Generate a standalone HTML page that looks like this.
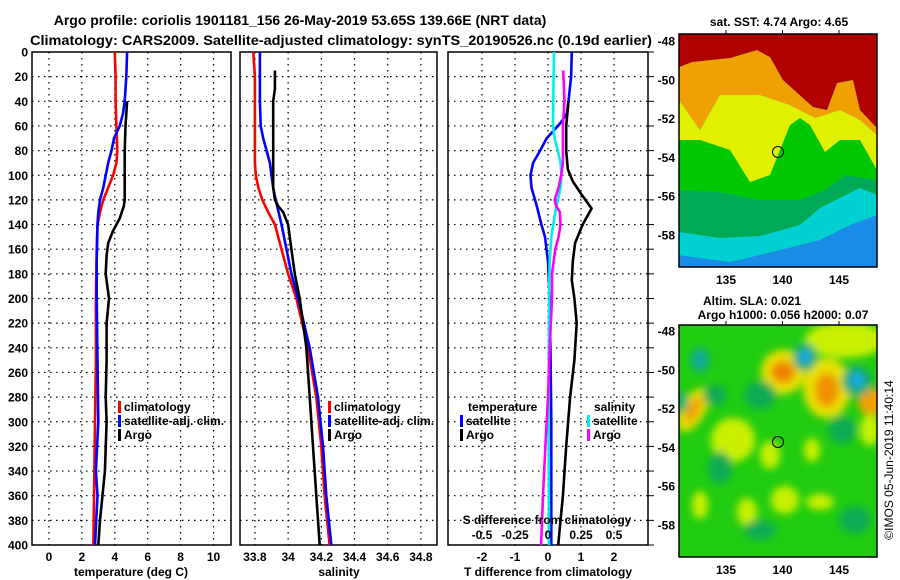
<!DOCTYPE html>
<html><head><meta charset="utf-8"><style>
html,body{margin:0;padding:0;background:#fff;}
svg{display:block;font-family:"Liberation Sans",Arial,sans-serif;font-weight:bold;}
</style></head><body>
<svg id="fig" width="900" height="580" viewBox="0 0 900 580" xmlns="http://www.w3.org/2000/svg">
<defs>
<filter id="blur4"><feGaussianBlur stdDeviation="4"/></filter>
<clipPath id="clipTop"><rect x="679" y="34" width="198" height="233"/></clipPath>
<clipPath id="clipBot"><rect x="679" y="325" width="198" height="232"/></clipPath>
</defs>
<text x="300" y="25" font-size="14" text-anchor="middle">Argo profile: coriolis 1901181_156 26-May-2019 53.65S 139.66E (NRT data)</text>
<text x="30" y="45" font-size="14" textLength="622" lengthAdjust="spacingAndGlyphs">Climatology: CARS2009. Satellite-adjusted climatology: synTS_20190526.nc (0.19d earlier)</text>
<g id="panels"></g>
<g id="maps">
 <g clip-path="url(#clipTop)">
  <rect x="679" y="34" width="198" height="233" fill="#00c8dc"/>
  <polygon fill="#1a8ce6" points="679,255 730,262 780,250 820,240 850,225 877,215 877,267 679,267"/>
  <polygon fill="#00d0d0" points="679,232 720,238 760,236 800,225 820,208 860,188 877,195 877,215 850,225 820,240 780,250 730,262 679,255"/>
  <polygon fill="#00aa55" points="679,190 720,192 760,200 800,200 825,190 845,175 877,180 877,195 860,188 820,208 800,225 760,236 720,238 679,232"/>
  <polygon fill="#00c800" points="679,140 700,140 730,150 750,182 770,175 790,125 800,118 810,125 825,152 840,140 860,140 877,170 877,180 845,175 825,190 800,200 760,200 720,192 679,190"/>
  <polygon fill="#e0f000" points="679,100 700,130 720,95 760,95 790,105 815,118 840,110 860,120 877,135 877,170 860,140 840,140 825,152 810,125 800,118 790,125 770,175 750,182 730,150 700,140 679,140"/>
  <polygon fill="#f0a000" points="679,67 692,62 730,58 757,50 770,57 783,80 813,107 827,110 837,83 853,80 860,110 877,128 877,135 860,120 840,110 815,118 790,105 760,95 720,95 700,130 679,100"/>
  <polygon fill="#b00000" points="679,34 877,34 877,128 860,110 853,80 837,83 827,110 813,107 783,80 770,57 757,50 730,58 692,62 679,67"/>
 </g>
 <rect x="679" y="34" width="198" height="233" fill="none" stroke="#000" stroke-width="1.5"/>
 <circle cx="778" cy="152" r="5.5" fill="none" stroke="#000" stroke-width="1"/>
 <g clip-path="url(#clipBot)">
  <rect x="679" y="325" width="198" height="232" fill="#22cc11"/>
  <g filter="url(#blur4)">
   <ellipse cx="845" cy="340" rx="40" ry="18" fill="#c8f000"/>
   <ellipse cx="783" cy="372" rx="22" ry="22" fill="#e8e000"/>
   <ellipse cx="783" cy="372" rx="12" ry="11" fill="#f08000"/>
   <ellipse cx="827" cy="388" rx="24" ry="30" fill="#e8e000"/>
   <ellipse cx="827" cy="390" rx="12" ry="17" fill="#f09000"/>
   <ellipse cx="872" cy="402" rx="14" ry="14" fill="#f0a000"/>
   <ellipse cx="805" cy="357" rx="12" ry="14" fill="#11aa77"/>
   <ellipse cx="805" cy="357" rx="5" ry="7" fill="#22aaee"/>
   <ellipse cx="857" cy="381" rx="15" ry="15" fill="#11aa77"/>
   <ellipse cx="857" cy="380" rx="6" ry="7" fill="#22aaee"/>
   <ellipse cx="700" cy="360" rx="9" ry="12" fill="#11aa99"/>
   <ellipse cx="693" cy="410" rx="12" ry="24" fill="#e8e000" transform="rotate(30 693 410)"/>
   <ellipse cx="693" cy="410" rx="6" ry="14" fill="#f0a000" transform="rotate(30 693 410)"/>
   <ellipse cx="682" cy="402" rx="6" ry="10" fill="#11aa77"/>
   <ellipse cx="733" cy="440" rx="22" ry="22" fill="#c8f000"/>
   <ellipse cx="770" cy="455" rx="10" ry="14" fill="#c8f000"/>
   <ellipse cx="785" cy="500" rx="14" ry="14" fill="#c8f000"/>
   <ellipse cx="747" cy="512" rx="10" ry="14" fill="#c8f000"/>
   <ellipse cx="700" cy="505" rx="8" ry="14" fill="#c8f000"/>
   <ellipse cx="820" cy="502" rx="14" ry="8" fill="#c8f000"/>
   <ellipse cx="812" cy="450" rx="8" ry="12" fill="#c8f000"/>
   <ellipse cx="720" cy="468" rx="12" ry="16" fill="#11aa55"/>
   <ellipse cx="842" cy="430" rx="14" ry="14" fill="#11aa55"/>
   <ellipse cx="760" cy="395" rx="16" ry="14" fill="#11aa55"/>
   <ellipse cx="715" cy="395" rx="12" ry="10" fill="#11aa55"/>
   <ellipse cx="760" cy="530" rx="16" ry="10" fill="#11aa55"/>
   <ellipse cx="855" cy="520" rx="16" ry="14" fill="#11aa55"/>
   <ellipse cx="870" cy="430" rx="10" ry="16" fill="#c8f000"/>
  </g>
 </g>
 <rect x="679" y="325" width="198" height="232" fill="none" stroke="#000" stroke-width="1.5"/>
 <circle cx="778" cy="442" r="5.5" fill="none" stroke="#000" stroke-width="1"/>
 <text x="779" y="26" font-size="12" text-anchor="middle">sat. SST: 4.74 Argo: 4.65</text>
 <text x="752" y="305" font-size="12" text-anchor="middle">Altim. SLA: 0.021</text>
 <text x="783" y="319" font-size="12" text-anchor="middle">Argo h1000: 0.056 h2000: 0.07</text>
 <text x="0" y="0" font-size="12" font-weight="normal" text-anchor="middle" transform="translate(893,460) rotate(-90)">©IMOS 05-Jun-2019 11:40:14</text>
</g>
</svg>
<script>
// ---- data ----
const depthAxisTicks = [0,20,40,60,80,100,120,140,160,180,200,220,240,260,280,300,320,340,360,380,400];
const tempTicks = [0,2,4,6,8,10];
const salTicks = [33.8,34,34.2,34.4,34.6,34.8];
const salTickLabels = ["33.8","34","34.2","34.4","34.6","34.8"];
const diffTicks = [-2,-1,0,1,2];
const sDiffTicks = [-0.5,-0.25,0,0.25,0.5];
const sDiffTickLabels = ["-0.5","-0.25","0","0.25","0.5"];
const mapLatTicks = [-48,-50,-52,-54,-56,-58];
const mapLonTicks = [135,140,145];

const tClimDepth = [0,20,40,60,80,90,100,110,120,130,140,160,200,250,300,350,400];
const tClim = [4.0,4.05,4.05,4.1,4.15,4.1,3.9,3.6,3.3,3.1,2.95,2.9,2.85,2.85,2.8,2.75,2.7];
const tSatDepth = [0,20,40,50,60,70,80,90,100,110,120,130,140,170,200,250,300,340,360,400];
const tSat = [4.75,4.7,4.6,4.5,4.3,3.95,3.8,3.6,3.45,3.3,3.1,3.0,2.95,2.9,2.9,2.95,3.0,2.85,2.95,2.8];
const tArgoDepth = [40,60,80,100,120,125,135,145,155,165,180,200,220,250,280,300,340,380,400];
const tArgo = [4.75,4.65,4.6,4.6,4.6,4.55,4.3,3.9,3.6,3.5,3.45,3.65,3.5,3.5,3.45,3.5,3.4,3.1,3.0];

const sClimDepth = [0,20,40,60,80,90,100,110,120,130,140,160,180,200,240,280,320,360,400];
const sClim = [33.79,33.8,33.8,33.8,33.8,33.8,33.805,33.82,33.845,33.88,33.92,33.96,34.0,34.05,34.12,34.17,34.2,34.22,34.25];
const sSatDepth = [0,20,40,60,70,80,90,100,110,120,140,160,180,200,240,280,320,360,400];
const sSat = [33.83,33.83,33.83,33.835,33.85,33.87,33.89,33.9,33.91,33.925,33.96,33.99,34.02,34.06,34.13,34.18,34.21,34.23,34.26];
const sArgoDepth = [15,30,40,60,90,110,120,125,130,140,160,180,200,240,280,320,360,400];
const sArgo = [33.92,33.92,33.91,33.91,33.91,33.91,33.92,33.94,33.97,34.0,34.02,34.04,34.07,34.11,34.13,34.15,34.17,34.19];

const dTSatDepth = [0,20,40,50,55,60,70,80,90,100,110,125,140,150,170,200,250,300,350,400];
const dTSat = [0.72,0.7,0.62,0.57,0.45,0.3,-0.04,-0.24,-0.45,-0.53,-0.5,-0.34,-0.2,-0.09,0,0.05,0.08,0.1,0.1,0.1];
const dTArgoDepth = [40,60,80,95,105,115,127,140,155,170,185,200,220,250,280,320,360,400];
const dTArgo = [0.62,0.55,0.55,0.6,0.75,1.0,1.32,1.05,0.82,0.75,0.72,0.8,0.87,0.8,0.67,0.55,0.45,0.31];
const dSSatDepth = [0,20,40,60,70,80,90,100,110,120,130,150,170,200,300,400];
const dSSat = [0.045,0.0425,0.04,0.0375,0.05,0.075,0.095,0.1025,0.095,0.075,0.055,0.025,0.0125,0.0075,0.005,0.0075];
const dSArgoDepth = [15,40,60,80,90,100,110,120,125,130,140,150,160,180,200,240,280,320,360,400];
const dSArgo = [0.115,0.125,0.1125,0.1125,0.1125,0.1,0.08,0.05,0.0625,0.09,0.095,0.08,0.055,0.03,0.03,0.0125,0,-0.02,-0.0375,-0.0525];

// ---- drawing ----
const NS = "http://www.w3.org/2000/svg";
const root = document.getElementById('panels');
function mk(tag, attrs, parent){
  const e = document.createElementNS(NS, tag);
  for (const k in attrs) e.setAttribute(k, attrs[k]);
  (parent||root).appendChild(e);
  return e;
}
const Y0 = 52, Y1 = 545;
const yScale = d => Y0 + (d/400)*(Y1-Y0);

const panels = [
  {name:'temperature', left:32, right:231, xmin:-1.03, xmax:11.06},
  {name:'salinity', left:240, right:437, xmin:33.71, xmax:34.897},
  {name:'difference', left:448, right:648, xmin:-3.03, xmax:3.03}
];
function xScaleOf(p){ return v => p.left + (v-p.xmin)/(p.xmax-p.xmin)*(p.right-p.left); }

panels.forEach((p, i) => {
  const xs = xScaleOf(p);
  const g = mk('g', {});
  
  
  const ticks = i===0 ? tempTicks : (i===1 ? salTicks : diffTicks);
  depthAxisTicks.forEach(d => {
    if (d===0 || d===400) return;
    const l = mk('line', {x1:p.left, x2:p.right, y1:yScale(d), y2:yScale(d), stroke:'#000', 'stroke-width':1.2, 'stroke-dasharray':'1.5,4.5'}, g);
    
    
  });
  ticks.forEach((t, k) => {
    const x = xs(t);
    const l = mk('line', {x1:x, x2:x, y1:Y0, y2:Y1, stroke:'#000', 'stroke-width':1.2, 'stroke-dasharray':'1.5,4.5'}, g);
    
    
    const tx = mk('text', {x:x, y:561, 'font-size':12, 'text-anchor':'middle'}, g);
    
    
    tx.textContent = i===1 ? salTickLabels[k] : String(t);
  });
  const fr = mk('rect', {x:p.left, y:Y0, width:p.right-p.left, height:Y1-Y0, fill:'none', stroke:'#000', 'stroke-width':1.5}, g);
  
  
  if (i===2) {
    depthAxisTicks.forEach(d => {
      const l = mk('line', {x1:p.right, x2:p.right+6, y1:yScale(d), y2:yScale(d), stroke:'#000', 'stroke-width':1}, g);
      
      
    });
  }
  p.xs = xs; p.g = g;
});

depthAxisTicks.forEach(d => {
  const t = mk('text', {x:28, y:yScale(d)+4.5, 'font-size':12, 'text-anchor':'end'});
  
  
  t.textContent = String(d);
});

function series(p, depths, vals, color, name, mult){
  const m = mult||1;
  const pts = depths.map((d,k) => p.xs(vals[k]*m).toFixed(1) + ',' + yScale(d).toFixed(1)).join(' ');
  const pl = mk('polyline', {points:pts, fill:'none', stroke:color, 'stroke-width':2.6, 'stroke-linejoin':'round'}, p.g);
  
  
}
series(panels[0], tClimDepth, tClim, '#ff0000', 'temperature-climatology-line');
series(panels[0], tSatDepth, tSat, '#0000ff', 'temperature-satellite-line');
series(panels[0], tArgoDepth, tArgo, '#000000', 'temperature-argo-line');
series(panels[1], sClimDepth, sClim, '#ff0000', 'salinity-climatology-line');
series(panels[1], sSatDepth, sSat, '#0000ff', 'salinity-satellite-line');
series(panels[1], sArgoDepth, sArgo, '#000000', 'salinity-argo-line');
series(panels[2], dTSatDepth, dTSat, '#0000ff', 'tdiff-satellite-line');
series(panels[2], dTArgoDepth, dTArgo, '#000000', 'tdiff-argo-line');
series(panels[2], dSSatDepth, dSSat, '#00eeee', 'sdiff-satellite-line', 4);
series(panels[2], dSArgoDepth, dSArgo, '#ff00ff', 'sdiff-argo-line', 4);

function legendEntry(x, y, color, label, name){
  const r = mk('rect', {x:x, y:y-10, width:3, height:12, fill:color});
  
  
  const t = mk('text', {x:x+6, y:y, 'font-size':12});
  
  
  t.textContent = label;
}
legendEntry(118, 411, '#ff0000', 'climatology', 'legend-temp-climatology');
legendEntry(118, 425, '#0000ff', 'satellite-adj. clim.', 'legend-temp-satellite');
legendEntry(118, 439, '#000000', 'Argo', 'legend-temp-argo');
legendEntry(328, 411, '#ff0000', 'climatology', 'legend-sal-climatology');
legendEntry(328, 425, '#0000ff', 'satellite-adj. clim.', 'legend-sal-satellite');
legendEntry(328, 439, '#000000', 'Argo', 'legend-sal-argo');
legendEntry(460, 425, '#0000ff', 'satellite', 'legend-tdiff-satellite');
legendEntry(460, 439, '#000000', 'Argo', 'legend-tdiff-argo');
legendEntry(587, 425, '#00eeee', 'satellite', 'legend-sdiff-satellite');
legendEntry(587, 439, '#ff00ff', 'Argo', 'legend-sdiff-argo');
[[468,'temperature','legend-temp-heading'],[594,'salinity','legend-sal-heading']].forEach(a => {
  const t = mk('text', {x:a[0], y:411, 'font-size':12});
  
  
  t.textContent = a[1];
});
const sd = mk('text', {x:547, y:524, 'font-size':12, 'text-anchor':'middle'});


sd.textContent = 'S difference from climatology';
sDiffTicks.forEach((s, k) => {
  const t = mk('text', {x:panels[2].xs(s*4), y:539, 'font-size':12, 'text-anchor':'middle'});
  
  
  t.textContent = sDiffTickLabels[k];
});
[[131,'temperature (deg C)','temperature-axis-title'],[339,'salinity','salinity-axis-title'],[548,'T difference from climatology','t-difference-axis-title']].forEach(a => {
  const t = mk('text', {x:a[0], y:576, 'font-size':12, 'text-anchor':'middle'});
  
  
  t.textContent = a[1];
});
const maps = document.getElementById('maps');
const lonX = lon => 726 + (lon-135)*11.3;
[[41,235,284,34],[331,525,574,325]].forEach((m, mi) => {
  const latY = lat => m[0] + (-48-lat)/10*(m[1]-m[0]);
  mapLatTicks.forEach(lat => {
    const t = mk('text', {x:675, y:latY(lat)+4.5, 'font-size':12, 'text-anchor':'end'}, maps);
    
    
    t.textContent = String(lat);
  });
  mapLonTicks.forEach(lon => {
    const t = mk('text', {x:lonX(lon), y:m[2], 'font-size':12, 'text-anchor':'middle'}, maps);
    
    
    t.textContent = String(lon);
    const l = mk('line', {x1:lonX(lon), x2:lonX(lon), y1:m[3]-4, y2:m[3], stroke:'#000', 'stroke-width':1}, maps);
    
    
  });
});
</script>
</body></html>
